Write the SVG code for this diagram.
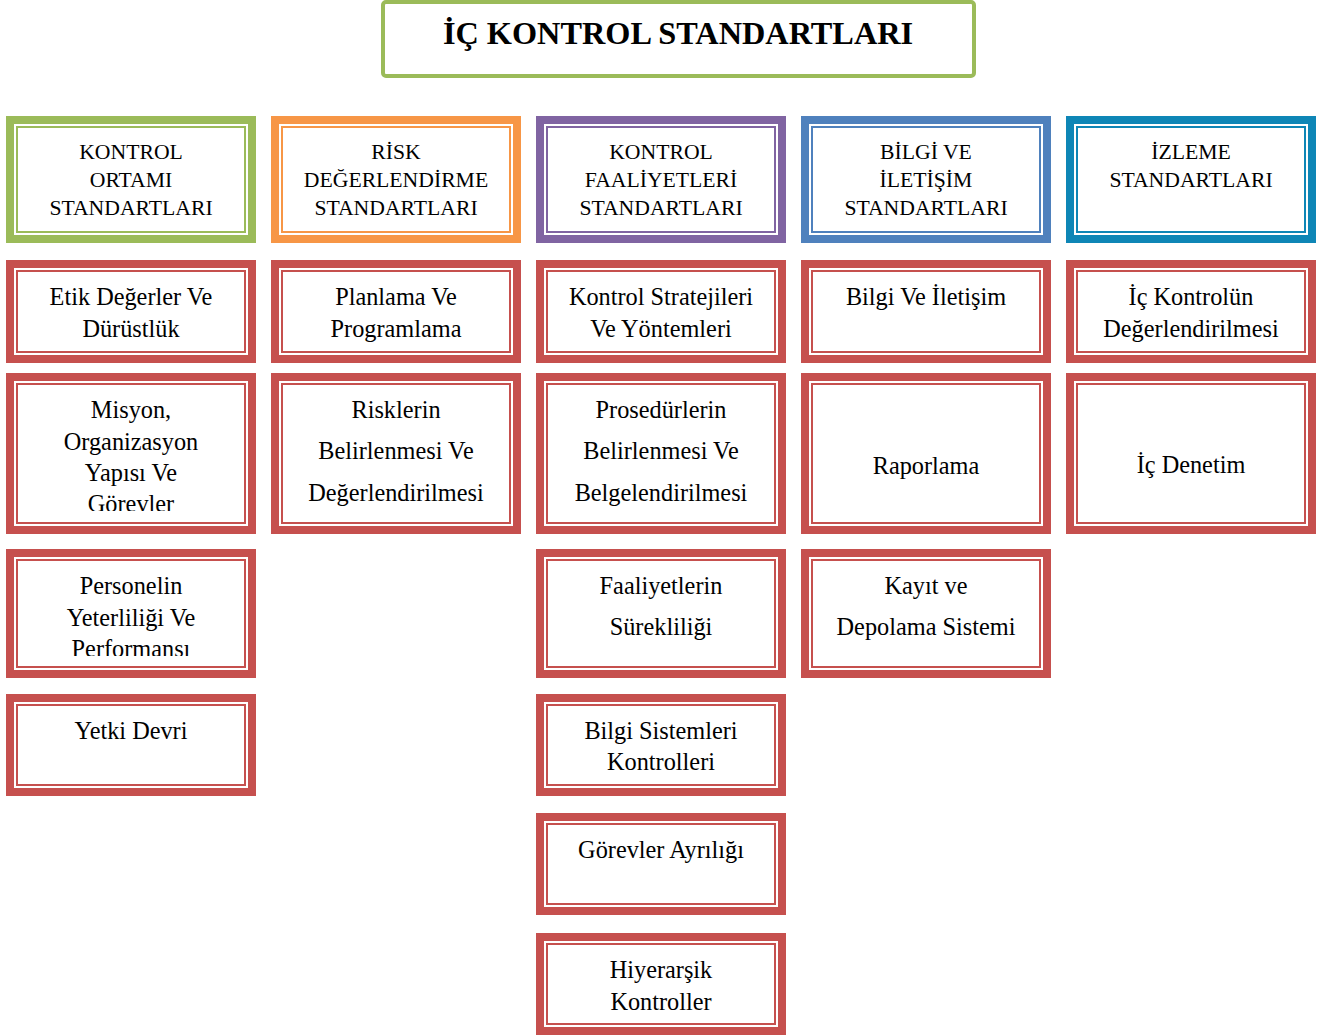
<svg xmlns="http://www.w3.org/2000/svg" width="1317" height="1036" viewBox="0 0 1317 1036">
<defs>
<style>
.o{fill:#fff;stroke-width:8}
.i{fill:none;stroke-width:2}
.g{stroke:#9BBB59}.or{stroke:#F79646}.p{stroke:#8064A2}.b{stroke:#4F81BD}.t{stroke:#0E86B6}.r{stroke:#C6504E}
.h{font-family:"Liberation Serif","Times New Roman",serif;font-size:21.7px;fill:#000;text-anchor:middle}
.c{font-family:"Liberation Serif","Times New Roman",serif;font-size:24.3px;fill:#000;text-anchor:middle}
.title{font-family:"Liberation Serif","Times New Roman",serif;font-size:32.3px;font-weight:bold;fill:#000;text-anchor:middle}
</style>
<clipPath id="clipMis"><rect x="18" y="380" width="226" height="131"/></clipPath>
<clipPath id="clipPer"><rect x="18" y="556" width="226" height="100"/></clipPath>
</defs>
<rect width="1317" height="1036" fill="#fff"/>
<g id="connectors"></g>

<g id="title">
<rect x="383" y="2" width="591" height="74" rx="3" fill="#fff" stroke="#9BBB59" stroke-width="4"/>
<text class="title" x="678" y="44">İÇ KONTROL STANDARTLARI</text>
</g>

<g id="h1"><rect class="o g" x="10" y="120" width="242" height="119"/><rect class="i g" x="17" y="127" width="228" height="105"/>
<text class="h" x="131" y="159">KONTROL</text><text class="h" x="131" y="187">ORTAMI</text><text class="h" x="131" y="215">STANDARTLARI</text></g>
<g id="h2"><rect class="o or" x="275" y="120" width="242" height="119"/><rect class="i or" x="282" y="127" width="228" height="105"/>
<text class="h" x="396" y="159">RİSK</text><text class="h" x="396" y="187">DEĞERLENDİRME</text><text class="h" x="396" y="215">STANDARTLARI</text></g>
<g id="h3"><rect class="o p" x="540" y="120" width="242" height="119"/><rect class="i p" x="547" y="127" width="228" height="105"/>
<text class="h" x="661" y="159">KONTROL</text><text class="h" x="661" y="187">FAALİYETLERİ</text><text class="h" x="661" y="215">STANDARTLARI</text></g>
<g id="h4"><rect class="o b" x="805" y="120" width="242" height="119"/><rect class="i b" x="812" y="127" width="228" height="105"/>
<text class="h" x="926" y="159">BİLGİ VE</text><text class="h" x="926" y="187">İLETİŞİM</text><text class="h" x="926" y="215">STANDARTLARI</text></g>
<g id="h5"><rect class="o t" x="1070" y="120" width="242" height="119"/><rect class="i t" x="1077" y="127" width="228" height="105"/>
<text class="h" x="1191" y="159">İZLEME</text><text class="h" x="1191" y="187">STANDARTLARI</text></g>

<!-- column 1 -->
<g id="c1r1"><rect class="o r" x="10" y="264" width="242" height="95"/><rect class="i r" x="17" y="271" width="228" height="81"/>
<text class="c" x="131" y="305">Etik Değerler Ve</text><text class="c" x="131" y="337">Dürüstlük</text></g>
<g id="c1r2"><rect class="o r" x="10" y="377" width="242" height="153"/><rect class="i r" x="17" y="384" width="228" height="139"/>
<g clip-path="url(#clipMis)"><text class="c" x="131" y="418">Misyon,</text><text class="c" x="131" y="450">Organizasyon</text><text class="c" x="131" y="481">Yapısı Ve</text><text class="c" x="131" y="512">Görevler</text></g></g>
<g id="c1r3"><rect class="o r" x="10" y="553" width="242" height="121"/><rect class="i r" x="17" y="560" width="228" height="107"/>
<g clip-path="url(#clipPer)"><text class="c" x="131" y="594">Personelin</text><text class="c" x="131" y="626">Yeterliliği Ve</text><text class="c" x="131" y="657">Performansı</text></g></g>
<g id="c1r4"><rect class="o r" x="10" y="698" width="242" height="94"/><rect class="i r" x="17" y="705" width="228" height="80"/>
<text class="c" x="131" y="739">Yetki Devri</text></g>

<!-- column 2 -->
<g id="c2r1"><rect class="o r" x="275" y="264" width="242" height="95"/><rect class="i r" x="282" y="271" width="228" height="81"/>
<text class="c" x="396" y="305">Planlama Ve</text><text class="c" x="396" y="337">Programlama</text></g>
<g id="c2r2"><rect class="o r" x="275" y="377" width="242" height="153"/><rect class="i r" x="282" y="384" width="228" height="139"/>
<text class="c" x="396" y="418">Risklerin</text><text class="c" x="396" y="459">Belirlenmesi Ve</text><text class="c" x="396" y="501">Değerlendirilmesi</text></g>

<!-- column 3 -->
<g id="c3r1"><rect class="o r" x="540" y="264" width="242" height="95"/><rect class="i r" x="547" y="271" width="228" height="81"/>
<text class="c" x="661" y="305">Kontrol Stratejileri</text><text class="c" x="661" y="337">Ve Yöntemleri</text></g>
<g id="c3r2"><rect class="o r" x="540" y="377" width="242" height="153"/><rect class="i r" x="547" y="384" width="228" height="139"/>
<text class="c" x="661" y="418">Prosedürlerin</text><text class="c" x="661" y="459">Belirlenmesi Ve</text><text class="c" x="661" y="501">Belgelendirilmesi</text></g>
<g id="c3r3"><rect class="o r" x="540" y="553" width="242" height="121"/><rect class="i r" x="547" y="560" width="228" height="107"/>
<text class="c" x="661" y="594">Faaliyetlerin</text><text class="c" x="661" y="635">Sürekliliği</text></g>
<g id="c3r4"><rect class="o r" x="540" y="698" width="242" height="94"/><rect class="i r" x="547" y="705" width="228" height="80"/>
<text class="c" x="661" y="739">Bilgi Sistemleri</text><text class="c" x="661" y="770">Kontrolleri</text></g>
<g id="c3r5"><rect class="o r" x="540" y="817" width="242" height="94"/><rect class="i r" x="547" y="824" width="228" height="80"/>
<text class="c" x="661" y="858">Görevler Ayrılığı</text></g>
<g id="c3r6"><rect class="o r" x="540" y="937" width="242" height="94"/><rect class="i r" x="547" y="944" width="228" height="80"/>
<text class="c" x="661" y="978">Hiyerarşik</text><text class="c" x="661" y="1010">Kontroller</text></g>

<!-- column 4 -->
<g id="c4r1"><rect class="o r" x="805" y="264" width="242" height="95"/><rect class="i r" x="812" y="271" width="228" height="81"/>
<text class="c" x="926" y="305">Bilgi Ve İletişim</text></g>
<g id="c4r2"><rect class="o r" x="805" y="377" width="242" height="153"/><rect class="i r" x="812" y="384" width="228" height="139"/>
<text class="c" x="926" y="474">Raporlama</text></g>
<g id="c4r3"><rect class="o r" x="805" y="553" width="242" height="121"/><rect class="i r" x="812" y="560" width="228" height="107"/>
<text class="c" x="926" y="594">Kayıt ve</text><text class="c" x="926" y="635">Depolama Sistemi</text></g>

<!-- column 5 -->
<g id="c5r1"><rect class="o r" x="1070" y="264" width="242" height="95"/><rect class="i r" x="1077" y="271" width="228" height="81"/>
<text class="c" x="1191" y="305">İç Kontrolün</text><text class="c" x="1191" y="337">Değerlendirilmesi</text></g>
<g id="c5r2"><rect class="o r" x="1070" y="377" width="242" height="153"/><rect class="i r" x="1077" y="384" width="228" height="139"/>
<text class="c" x="1191" y="473">İç Denetim</text></g>
</svg>
